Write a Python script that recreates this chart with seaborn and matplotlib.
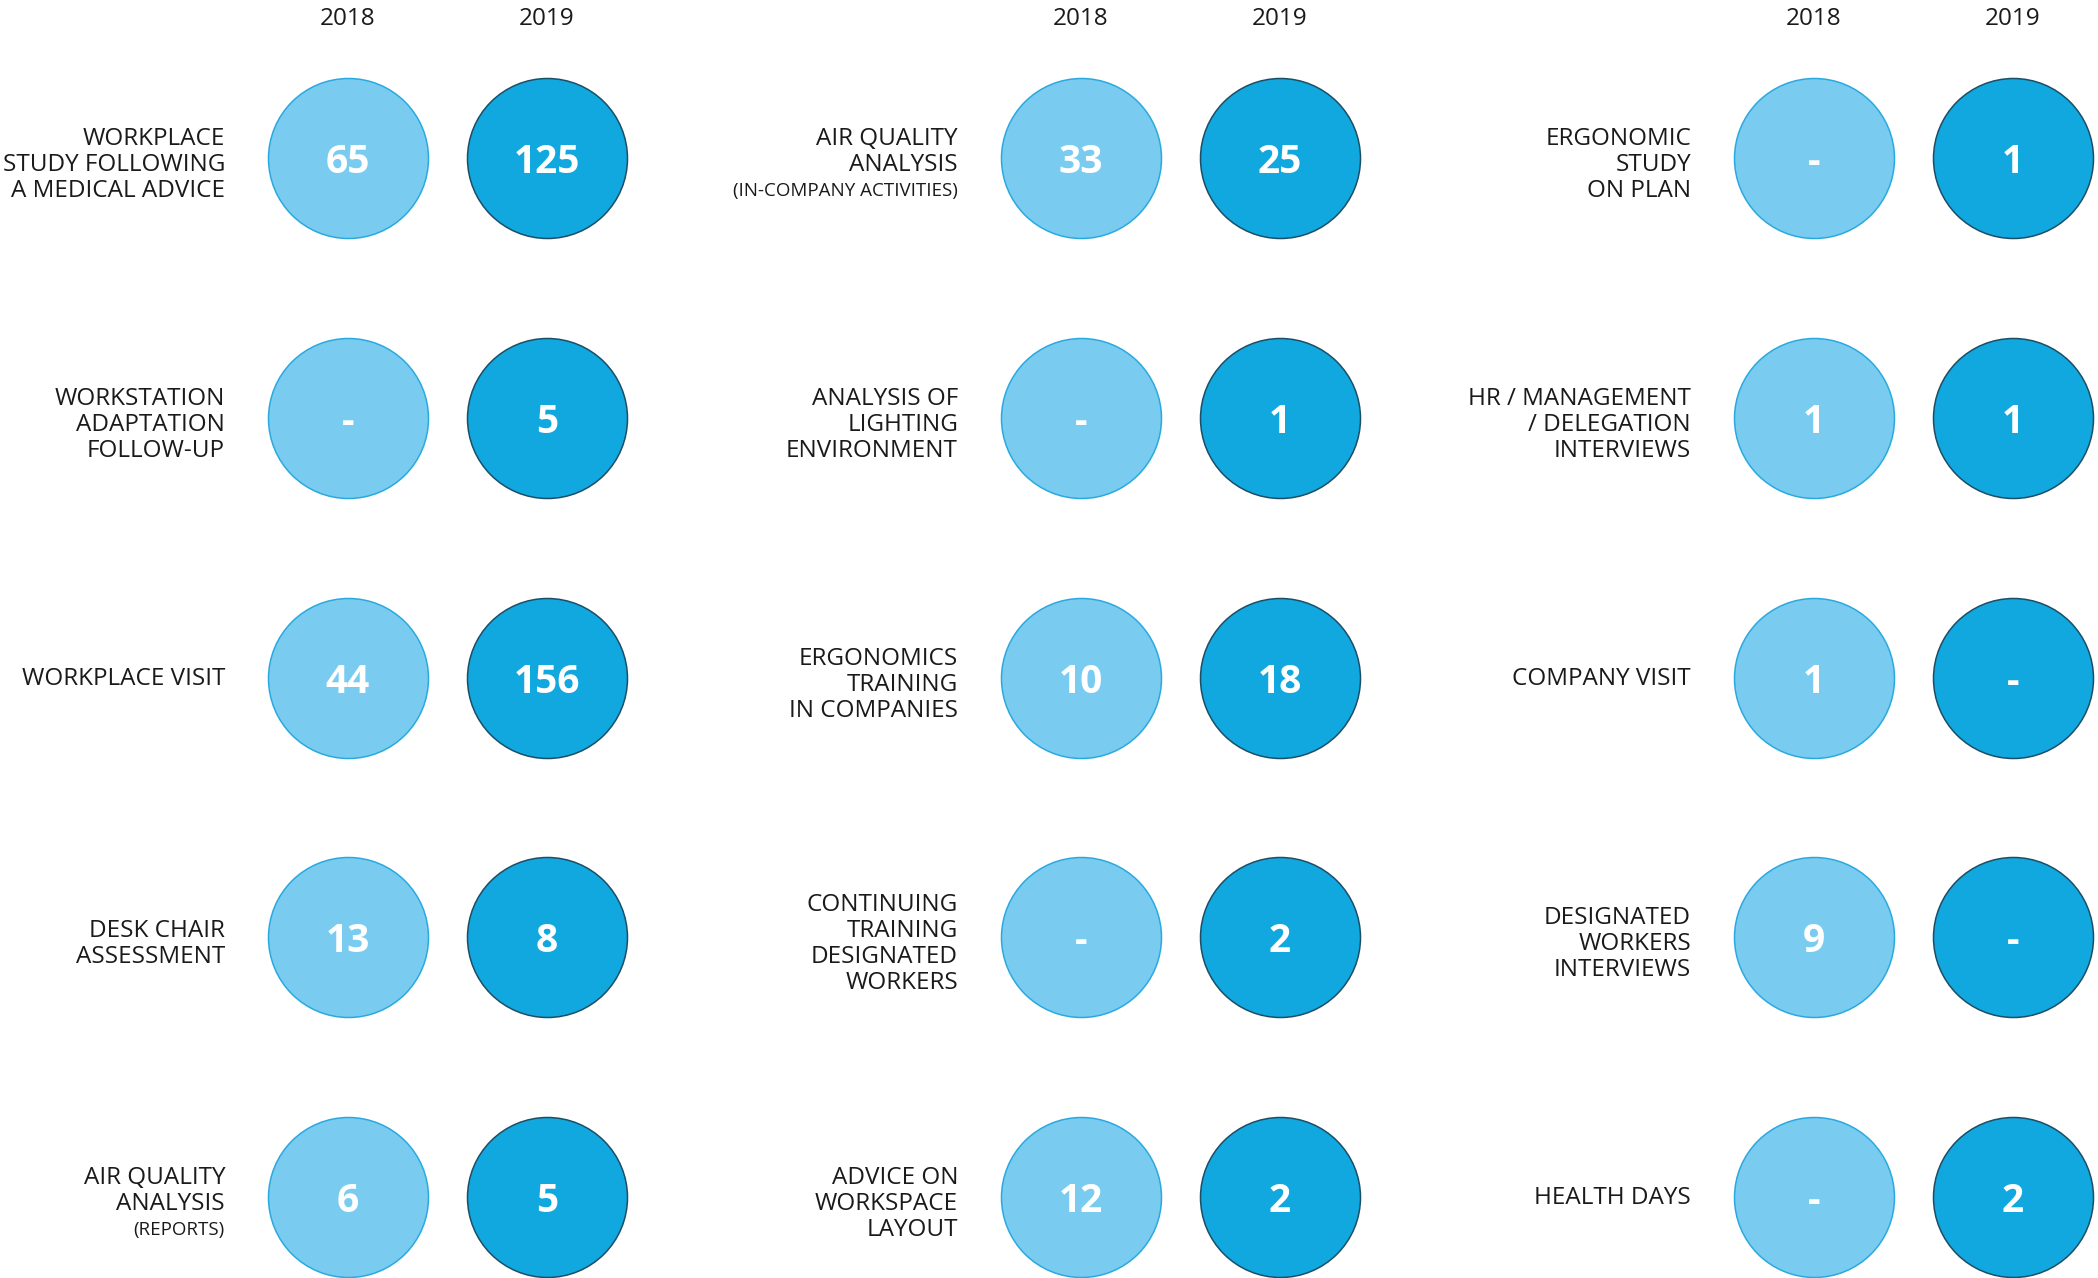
import matplotlib
matplotlib.use("Agg")
import matplotlib.pyplot as plt
import seaborn as sns
import pandas as pd

# ---------------- data ----------------
years = ["2018", "2019"]

labels = [
    ["WORKPLACE", "STUDY FOLLOWING", "A MEDICAL ADVICE"],
    ["WORKSTATION", "ADAPTATION", "FOLLOW-UP"],
    ["WORKPLACE VISIT"],
    ["DESK CHAIR", "ASSESSMENT"],
    ["AIR QUALITY", "ANALYSIS"],
    ["AIR QUALITY", "ANALYSIS"],
    ["ANALYSIS OF", "LIGHTING", "ENVIRONMENT"],
    ["ERGONOMICS", "TRAINING", "IN COMPANIES"],
    ["CONTINUING", "TRAINING", "DESIGNATED", "WORKERS"],
    ["ADVICE ON", "WORKSPACE", "LAYOUT"],
    ["ERGONOMIC", "STUDY", "ON PLAN"],
    ["HR / MANAGEMENT", "/ DELEGATION", "INTERVIEWS"],
    ["COMPANY VISIT"],
    ["DESIGNATED", "WORKERS", "INTERVIEWS"],
    ["HEALTH DAYS"],
]
sub_notes = ["", "", "", "", "(REPORTS)",
             "(IN-COMPANY ACTIVITIES)", "", "", "", "",
             "", "", "", "", ""]

values_2018 = [65, None, 44, 13, 6,
               33, None, 10, None, 12,
               None, 1, 1, 9, None]
values_2019 = [125, 5, 156, 8, 5,
               25, 1, 18, 2, 2,
               1, 1, None, None, 2]

# ---------------- layout / style ----------------
W, H = 2098, 1278
panel_x0 = 348
panel_dx = 733
year_dx = 199
row_y0 = 158
row_dy = 259.8
n_rows = 5
label_gap = 123

light_fill, light_edge = "#79CCF0", "#2AA9E0"
dark_fill, dark_edge = "#10A8DF", "#1C4E66"
radius_px = 80
dpi = 100

sns.set_theme(style="white")
plt.rcParams["font.family"] = ["Open Sans", "DejaVu Sans"]

rows = []
for i in range(len(labels)):
    panel, r = divmod(i, n_rows)
    for j, (yr, vals) in enumerate(zip(years, [values_2018, values_2019])):
        v = vals[i]
        rows.append(dict(item=i, year=yr,
                         x=panel_x0 + panel * panel_dx + j * year_dx,
                         y=row_y0 + r * row_dy,
                         text="-" if v is None else str(v)))
df = pd.DataFrame(rows)

fig = plt.figure(figsize=(W / dpi, H / dpi), dpi=dpi)
ax = fig.add_axes([0, 0, 1, 1])
ax.set_xlim(0, W)
ax.set_ylim(H, 0)
ax.axis("off")

diam_pt = 2 * radius_px * 72 / dpi
s = diam_pt ** 2
for yr, fc, ec in [("2018", light_fill, light_edge), ("2019", dark_fill, dark_edge)]:
    sub = df[df["year"] == yr]
    sns.scatterplot(data=sub, x="x", y="y", s=s, color=fc, edgecolor=ec,
                    linewidth=1.1, ax=ax, legend=False, zorder=2, clip_on=False)

# values
for _, rw in df.iterrows():
    ax.text(rw.x, rw.y + 15, rw.text, ha="center", va="baseline",
            color="white", fontsize=28, fontweight="bold", zorder=3)

# year headers
for p in range(3):
    for j, yr in enumerate(years):
        ax.text(panel_x0 + p * panel_dx + j * year_dx, 19, yr, ha="center",
                va="center", fontsize=17.5, color="#1a1a1a")

# row labels
line_h = 26
for i, lines in enumerate(labels):
    panel, r = divmod(i, n_rows)
    xr = panel_x0 + panel * panel_dx - label_gap
    all_lines = [(t, 17.5) for t in lines]
    if sub_notes[i]:
        all_lines.append((sub_notes[i], 13.5))
    n = len(all_lines)
    cy = row_y0 + r * row_dy + (7 if n > 1 else 1)
    for k, (t, fs) in enumerate(all_lines):
        yy = cy + (k - (n - 1) / 2) * line_h
        ax.text(xr, yy, t, ha="right", va="center", fontsize=fs,
                color="#1a1a1a")

fig.savefig("out.png", dpi=dpi)
